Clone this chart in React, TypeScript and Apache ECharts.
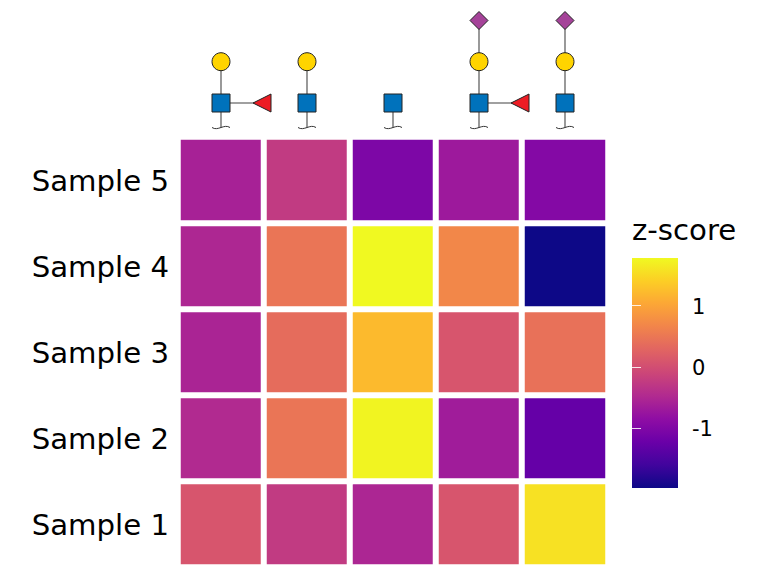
import React, { useEffect, useRef } from "react";
import * as echarts from "echarts";

const samples = ["Sample 1", "Sample 2", "Sample 3", "Sample 4", "Sample 5"];
const columns = ["G1", "G2", "G3", "G4", "G5"];
const sample1 = [0.09, -0.25, -0.53, 0.09, 1.57];
const sample2 = [-0.48, 0.48, 1.74, -0.66, -1.27];
const sample3 = [-0.55, 0.37, 1.22, 0.09, 0.43];
const sample4 = [-0.52, 0.48, 1.78, 0.69, -1.98];
const sample5 = [-0.59, -0.25, -1.04, -0.7, -0.96];
const rows = [sample1, sample2, sample3, sample4, sample5];
const legendTicks = [-1, 0, 1];
const legendMin = -1.98;
const legendMax = 1.78;
const plasma = ["#0D0887", "#41049D", "#6A00A8", "#8F0DA4", "#B12A90", "#CC4678", "#E16462", "#F1844B", "#FCA636", "#FCCE25", "#F0F921"];

// Glycan cartoon per column: has fucose, has galactose, has sialic acid
const hasFucose = [true, false, false, true, false];
const hasGalactose = [true, true, false, true, true];
const hasSialic = [false, false, false, true, true];

const FONT = "DejaVu Sans";
const GRID = { left: 178, top: 137, size: 430 };
const BAR = { left: 632, top: 258, width: 46, height: 230 };
const BLUE = "#0072BC";
const YELLOW = "#FFD400";
const RED = "#ED1C24";
const PURPLE = "#A54399";
const LINE = { stroke: "#808080", lineWidth: 1.6 };
const EDGE = { stroke: "#222222", lineWidth: 1 };

function glycan(i: number): any[] {
  const band = GRID.size / columns.length;
  const cx = GRID.left + band * (i + 0.5);
  const els: any[] = [];
  const line = (x1: number, y1: number, x2: number, y2: number) =>
    els.push({ type: "line", shape: { x1, y1, x2, y2 }, style: { ...LINE } });
  const topY = hasSialic[i] ? 20.5 : hasGalactose[i] ? 61.7 : 103;
  line(cx, topY, cx, 127.5);
  if (hasFucose[i]) line(cx, 103, cx + 36, 103);
  els.push({
    type: "bezierCurve",
    shape: { x1: cx - 9, y1: 127.5, cpx1: cx - 3, cpy1: 131.5, cpx2: cx + 3, cpy2: 123.5, x2: cx + 9, y2: 127.5 },
    style: { stroke: "#333333", lineWidth: 1, fill: "none" },
  });
  els.push({
    type: "rect",
    shape: { x: cx - 9, y: 94, width: 18, height: 18 },
    style: { fill: BLUE, ...EDGE },
  });
  if (hasFucose[i]) {
    els.push({
      type: "polygon",
      shape: { points: [[cx + 32, 103], [cx + 50, 94], [cx + 50, 112]] },
      style: { fill: RED, ...EDGE },
    });
  }
  if (hasGalactose[i]) {
    els.push({ type: "circle", shape: { cx, cy: 61.7, r: 9 }, style: { fill: YELLOW, ...EDGE } });
  }
  if (hasSialic[i]) {
    els.push({
      type: "polygon",
      shape: { points: [[cx, 11.5], [cx + 9, 20.5], [cx, 29.5], [cx - 9, 20.5]] },
      style: { fill: PURPLE, ...EDGE },
    });
  }
  return els;
}

export default function App() {
  const ref = useRef<HTMLDivElement>(null);
  useEffect(() => {
    const chart = echarts.init(ref.current!, null, { renderer: "svg" });
    const data: number[][] = [];
    rows.forEach((row, r) => row.forEach((v, c) => data.push([c, r, v])));
    const axisOff = { show: false };
    const legendTick = {
      show: true,
      inside: true,
      length: 9,
      customValues: legendTicks,
      lineStyle: { color: "#ffffff", width: 1, opacity: 0.85 },
    };
    const stops = plasma.map((color, i) => ({ offset: i / (plasma.length - 1), color }));
    chart.setOption({
      animation: false,
      backgroundColor: "#ffffff",
      title: {
        text: "z-score",
        left: 632,
        top: 215,
        padding: 0,
        textStyle: { fontFamily: FONT, fontSize: 29.2, fontWeight: "normal", color: "#000000" },
      },
      grid: [
        { left: GRID.left, top: GRID.top, width: GRID.size, height: GRID.size },
        { left: BAR.left, top: BAR.top, width: BAR.width, height: BAR.height },
        // label-only grids, nudged down to sit the text where the reference has it
        { left: GRID.left, top: GRID.top + 1, width: GRID.size, height: GRID.size },
        { left: BAR.left, top: BAR.top + 1, width: BAR.width, height: BAR.height },
      ],
      xAxis: [
        { type: "category", data: columns, gridIndex: 0, ...axisOff },
        { type: "value", gridIndex: 1, min: 0, max: 1, ...axisOff },
        { type: "value", gridIndex: 2, min: 0, max: 1, ...axisOff },
        { type: "value", gridIndex: 3, min: 0, max: 1, ...axisOff },
      ],
      yAxis: [
        { type: "category", data: samples, gridIndex: 0, ...axisOff },
        {
          type: "value",
          gridIndex: 1,
          position: "right",
          min: legendMin,
          max: legendMax,
          z: 10,
          axisLine: axisOff,
          splitLine: axisOff,
          axisLabel: axisOff,
          axisTick: legendTick,
        },
        {
          type: "value",
          gridIndex: 1,
          position: "left",
          min: legendMin,
          max: legendMax,
          z: 10,
          axisLine: axisOff,
          splitLine: axisOff,
          axisLabel: axisOff,
          axisTick: legendTick,
        },
        {
          type: "category",
          data: samples,
          gridIndex: 2,
          axisLine: axisOff,
          axisTick: axisOff,
          splitLine: axisOff,
          axisLabel: { fontFamily: FONT, fontSize: 29.2, color: "#000000", margin: 9 },
        },
        {
          type: "value",
          gridIndex: 3,
          position: "right",
          min: legendMin,
          max: legendMax,
          axisLine: axisOff,
          axisTick: axisOff,
          splitLine: axisOff,
          axisLabel: {
            show: true,
            customValues: legendTicks,
            fontFamily: FONT,
            fontSize: 21,
            color: "#000000",
            margin: 14,
          },
        },
      ],
      visualMap: {
        type: "continuous",
        show: false,
        seriesIndex: 0,
        min: legendMin,
        max: legendMax,
        inRange: { color: plasma },
      },
      series: [
        {
          type: "heatmap",
          xAxisIndex: 0,
          yAxisIndex: 0,
          data,
          silent: true,
          itemStyle: { borderColor: "#ffffff", borderWidth: 6 },
          emphasis: { disabled: true },
        },
      ],
      graphic: {
        elements: [
          {
            type: "rect",
            silent: true,
            z: 1,
            shape: { x: BAR.left, y: BAR.top, width: BAR.width, height: BAR.height },
            style: { fill: new echarts.graphic.LinearGradient(0, 1, 0, 0, stops) },
          },
          ...columns.flatMap((_, i) => glycan(i)).map((e) => ({ ...e, silent: true })),
        ],
      },
    });
    return () => chart.dispose();
  }, []);
  return <div ref={ref} style={{ position: "fixed", left: 0, top: 0, width: 768, height: 576 }} />;
}
